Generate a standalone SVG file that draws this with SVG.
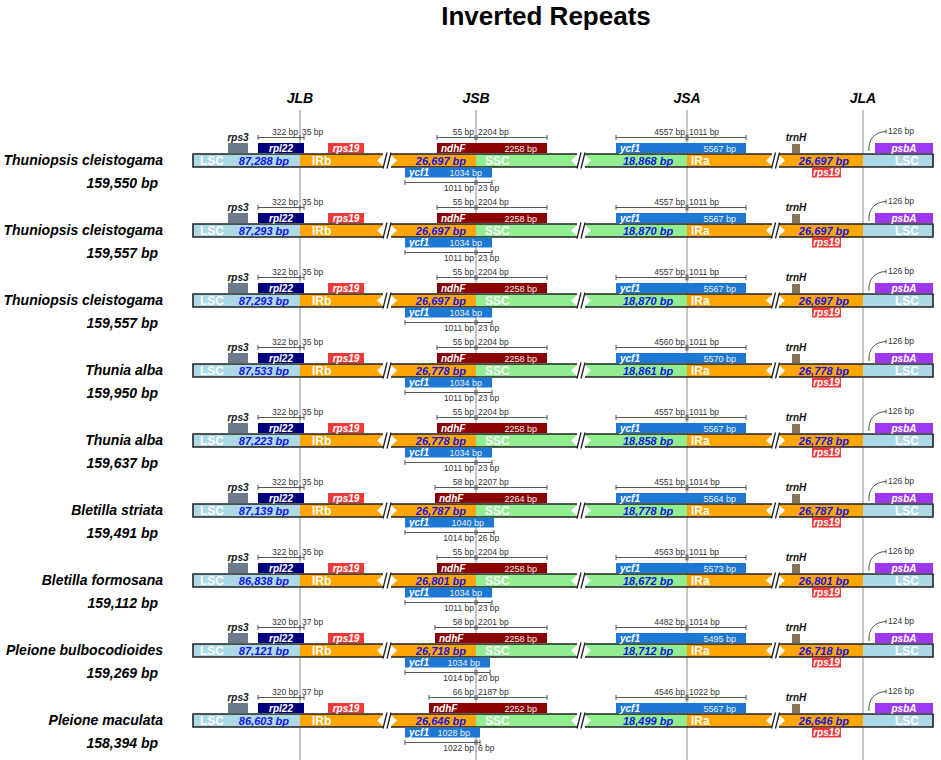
<svg xmlns="http://www.w3.org/2000/svg" xmlns:xlink="http://www.w3.org/1999/xlink" width="941" height="760" viewBox="0 0 941 760">
<style>
text{font-family:"Liberation Sans",Arial,sans-serif}
.t{font-size:26px;font-weight:bold;text-anchor:middle;fill:#000}
.j{font-size:14px;font-weight:bold;font-style:italic;text-anchor:middle;fill:#000}
.sp{font-size:14px;font-weight:bold;font-style:italic;text-anchor:end;fill:#000}
.reg{font-size:12px;font-weight:bold;fill:#fff}
.num{font-size:11px;font-weight:bold;font-style:italic;fill:#1414e6}
.gl{font-size:10px;font-weight:bold;font-style:italic;fill:#fff;text-anchor:middle}
.gs{font-size:10px;font-weight:bold;font-style:italic;fill:#fff}
.gk{font-size:10px;font-weight:bold;font-style:italic;fill:#111;text-anchor:middle}
.sz{font-size:9px;fill:#eee;text-anchor:end}
.sc{font-size:8.5px;fill:#333}
.e{text-anchor:end}
.jl{stroke:#a8a8a8;stroke-width:1.3;fill:none}
.scl{stroke:#555;stroke-width:1;fill:none}
</style>
<defs>
<g id="base">
<rect x="193" y="154" width="107" height="13" fill="#add8e6"/>
<rect x="300" y="154" width="83" height="13" fill="#ffa500"/>
<rect x="391" y="154" width="85" height="13" fill="#ffa500"/>
<rect x="476" y="154" width="101" height="13" fill="#90ee90"/>
<rect x="585" y="154" width="102" height="13" fill="#90ee90"/>
<rect x="687" y="154" width="85" height="13" fill="#ffa500"/>
<rect x="779" y="154" width="84" height="13" fill="#ffa500"/>
<rect x="863" y="154" width="70" height="13" fill="#add8e6"/>
<path d="M383,154H193V167H383M391,154H577M391,167H577M585,154H772M585,167H772M779,154H933V167H779" fill="none" stroke="#222" stroke-width="1.6"/>
<path d="M377,160.5L383,155V166ZM397,160.5L391,155V166ZM571,160.5L577,155V166ZM591,160.5L585,155V166ZM766,160.5L772,155V166ZM785,160.5L779,155V166Z" fill="#fff"/>
<path d="M383,168.5L387,152.5M387,168.5L391,152.5M577,168.5L581,152.5M581,168.5L585,152.5M771.5,168.5L775.5,152.5M775.5,168.5L779.5,152.5" stroke="#222" stroke-width="1.3"/>
<rect x="228" y="143" width="20" height="10" fill="#6c7b8b"/>
<rect x="258" y="143" width="46" height="10" fill="#00007f"/>
<rect x="328" y="143" width="36" height="10" fill="#f03a3a"/>
<rect x="616" y="143" width="130" height="10" fill="#1c78d2"/>
<rect x="792" y="144" width="8" height="9" fill="#8b7355"/>
<rect x="875" y="143" width="58" height="10" fill="#9c38ef"/>
<rect x="812" y="167.5" width="29" height="10" fill="#f03a3a"/>
<path class="scl" d="M258,137.5H304M258,135V140M300,135V140M304,135V140"/>
<path class="scl" d="M616,137.5H746M616,135V140M746,135V140"/>
<rect x="685.5" y="134.5" width="3" height="6" fill="#777"/>
<path class="scl" d="M869,151C868,140 874,132 886,131.5M886,129.5V133.5"/>
</g>
</defs>
<rect width="941" height="760" fill="#fff"/>
<text class="t" x="546" y="25">Inverted Repeats</text>
<g id="connectors">
<path class="jl" d="M300,110V760M476,110V760M687,110V760M863,110V760"/>
</g>
<g id="junctions">
<text class="j" x="300" y="103">JLB</text>
<text class="j" x="476" y="103">JSB</text>
<text class="j" x="687" y="103">JSA</text>
<text class="j" x="863" y="103">JLA</text>
</g>

<g id="row1">
<use xlink:href="#base"/>
<rect x="437" y="143" width="110" height="10" fill="#8b0000"/>
<path class="scl" d="M437,137.5H547M437,135V140M475,135V140M477,135V140M547,135V140"/>
<rect x="405" y="167.5" width="87" height="10" fill="#1c78d2"/>
<path class="scl" d="M405,182.5H492M405,180V185M475,180V185M477,180V185M492,180V185"/>
<text class="sp" x="163" y="165">Thuniopsis cleistogama</text>
<text class="sp" x="158" y="188">159,550 bp</text>
<text class="reg" x="200" y="165">LSC</text><text class="num e" x="289" y="164.5">87,288 bp</text>
<text class="reg" x="312" y="165">IRb</text><text class="num e" x="466" y="164.5">26,697 bp</text>
<text class="reg" x="485" y="165">SSC</text><text class="num" x="623" y="164.5">18,868 bp</text>
<text class="reg" x="691" y="165">IRa</text><text class="num e" x="849" y="164.5">26,697 bp</text>
<text class="reg" x="895" y="165">LSC</text>
<text class="gk" x="238" y="140.5">rps3</text><text class="gl" x="281" y="151.5">rpl22</text><text class="gl" x="346" y="151.5">rps19</text>
<text class="sc e" x="298" y="135">322 bp</text><text class="sc" x="302" y="135">35 bp</text>
<text class="gs" x="441" y="151.5">ndhF</text><text class="sz" x="537" y="151.5">2258 bp</text>
<text class="sc e" x="474" y="135">55 bp</text><text class="sc" x="478" y="135">2204 bp</text>
<text class="gs" x="409" y="175.5">ycf1</text><text class="sz" x="482" y="175.5">1034 bp</text>
<text class="sc e" x="474" y="191">1011 bp</text><text class="sc" x="478" y="191">23 bp</text>
<text class="gs" x="620" y="151.5">ycf1</text><text class="sz" x="736" y="151.5">5567 bp</text>
<text class="sc e" x="685" y="135">4557 bp</text><text class="sc" x="689" y="135">1011 bp</text>
<text class="gk" x="796" y="140.5">trnH</text><text class="gl" x="826.5" y="176">rps19</text>
<text class="gl" x="904" y="151.5">psbA</text><text class="sc" x="888" y="134">126 bp</text>
</g>

<g id="row2" transform="translate(0,70)">
<use xlink:href="#base"/>
<rect x="437" y="143" width="110" height="10" fill="#8b0000"/>
<path class="scl" d="M437,137.5H547M437,135V140M475,135V140M477,135V140M547,135V140"/>
<rect x="405" y="167.5" width="87" height="10" fill="#1c78d2"/>
<path class="scl" d="M405,182.5H492M405,180V185M475,180V185M477,180V185M492,180V185"/>
<text class="sp" x="163" y="165">Thuniopsis cleistogama</text>
<text class="sp" x="158" y="188">159,557 bp</text>
<text class="reg" x="200" y="165">LSC</text><text class="num e" x="289" y="164.5">87,293 bp</text>
<text class="reg" x="312" y="165">IRb</text><text class="num e" x="466" y="164.5">26,697 bp</text>
<text class="reg" x="485" y="165">SSC</text><text class="num" x="623" y="164.5">18,870 bp</text>
<text class="reg" x="691" y="165">IRa</text><text class="num e" x="849" y="164.5">26,697 bp</text>
<text class="reg" x="895" y="165">LSC</text>
<text class="gk" x="238" y="140.5">rps3</text><text class="gl" x="281" y="151.5">rpl22</text><text class="gl" x="346" y="151.5">rps19</text>
<text class="sc e" x="298" y="135">322 bp</text><text class="sc" x="302" y="135">35 bp</text>
<text class="gs" x="441" y="151.5">ndhF</text><text class="sz" x="537" y="151.5">2258 bp</text>
<text class="sc e" x="474" y="135">55 bp</text><text class="sc" x="478" y="135">2204 bp</text>
<text class="gs" x="409" y="175.5">ycf1</text><text class="sz" x="482" y="175.5">1034 bp</text>
<text class="sc e" x="474" y="191">1011 bp</text><text class="sc" x="478" y="191">23 bp</text>
<text class="gs" x="620" y="151.5">ycf1</text><text class="sz" x="736" y="151.5">5567 bp</text>
<text class="sc e" x="685" y="135">4557 bp</text><text class="sc" x="689" y="135">1011 bp</text>
<text class="gk" x="796" y="140.5">trnH</text><text class="gl" x="826.5" y="176">rps19</text>
<text class="gl" x="904" y="151.5">psbA</text><text class="sc" x="888" y="134">126 bp</text>
</g>

<g id="row3" transform="translate(0,140)">
<use xlink:href="#base"/>
<rect x="437" y="143" width="110" height="10" fill="#8b0000"/>
<path class="scl" d="M437,137.5H547M437,135V140M475,135V140M477,135V140M547,135V140"/>
<rect x="405" y="167.5" width="87" height="10" fill="#1c78d2"/>
<path class="scl" d="M405,182.5H492M405,180V185M475,180V185M477,180V185M492,180V185"/>
<text class="sp" x="163" y="165">Thuniopsis cleistogama</text>
<text class="sp" x="158" y="188">159,557 bp</text>
<text class="reg" x="200" y="165">LSC</text><text class="num e" x="289" y="164.5">87,293 bp</text>
<text class="reg" x="312" y="165">IRb</text><text class="num e" x="466" y="164.5">26,697 bp</text>
<text class="reg" x="485" y="165">SSC</text><text class="num" x="623" y="164.5">18,870 bp</text>
<text class="reg" x="691" y="165">IRa</text><text class="num e" x="849" y="164.5">26,697 bp</text>
<text class="reg" x="895" y="165">LSC</text>
<text class="gk" x="238" y="140.5">rps3</text><text class="gl" x="281" y="151.5">rpl22</text><text class="gl" x="346" y="151.5">rps19</text>
<text class="sc e" x="298" y="135">322 bp</text><text class="sc" x="302" y="135">35 bp</text>
<text class="gs" x="441" y="151.5">ndhF</text><text class="sz" x="537" y="151.5">2258 bp</text>
<text class="sc e" x="474" y="135">55 bp</text><text class="sc" x="478" y="135">2204 bp</text>
<text class="gs" x="409" y="175.5">ycf1</text><text class="sz" x="482" y="175.5">1034 bp</text>
<text class="sc e" x="474" y="191">1011 bp</text><text class="sc" x="478" y="191">23 bp</text>
<text class="gs" x="620" y="151.5">ycf1</text><text class="sz" x="736" y="151.5">5567 bp</text>
<text class="sc e" x="685" y="135">4557 bp</text><text class="sc" x="689" y="135">1011 bp</text>
<text class="gk" x="796" y="140.5">trnH</text><text class="gl" x="826.5" y="176">rps19</text>
<text class="gl" x="904" y="151.5">psbA</text><text class="sc" x="888" y="134">126 bp</text>
</g>

<g id="row4" transform="translate(0,210)">
<use xlink:href="#base"/>
<rect x="437" y="143" width="110" height="10" fill="#8b0000"/>
<path class="scl" d="M437,137.5H547M437,135V140M475,135V140M477,135V140M547,135V140"/>
<rect x="405" y="167.5" width="87" height="10" fill="#1c78d2"/>
<path class="scl" d="M405,182.5H492M405,180V185M475,180V185M477,180V185M492,180V185"/>
<text class="sp" x="163" y="165">Thunia alba</text>
<text class="sp" x="158" y="188">159,950 bp</text>
<text class="reg" x="200" y="165">LSC</text><text class="num e" x="289" y="164.5">87,533 bp</text>
<text class="reg" x="312" y="165">IRb</text><text class="num e" x="466" y="164.5">26,778 bp</text>
<text class="reg" x="485" y="165">SSC</text><text class="num" x="623" y="164.5">18,861 bp</text>
<text class="reg" x="691" y="165">IRa</text><text class="num e" x="849" y="164.5">26,778 bp</text>
<text class="reg" x="895" y="165">LSC</text>
<text class="gk" x="238" y="140.5">rps3</text><text class="gl" x="281" y="151.5">rpl22</text><text class="gl" x="346" y="151.5">rps19</text>
<text class="sc e" x="298" y="135">322 bp</text><text class="sc" x="302" y="135">35 bp</text>
<text class="gs" x="441" y="151.5">ndhF</text><text class="sz" x="537" y="151.5">2258 bp</text>
<text class="sc e" x="474" y="135">55 bp</text><text class="sc" x="478" y="135">2204 bp</text>
<text class="gs" x="409" y="175.5">ycf1</text><text class="sz" x="482" y="175.5">1034 bp</text>
<text class="sc e" x="474" y="191">1011 bp</text><text class="sc" x="478" y="191">23 bp</text>
<text class="gs" x="620" y="151.5">ycf1</text><text class="sz" x="736" y="151.5">5570 bp</text>
<text class="sc e" x="685" y="135">4560 bp</text><text class="sc" x="689" y="135">1011 bp</text>
<text class="gk" x="796" y="140.5">trnH</text><text class="gl" x="826.5" y="176">rps19</text>
<text class="gl" x="904" y="151.5">psbA</text><text class="sc" x="888" y="134">126 bp</text>
</g>

<g id="row5" transform="translate(0,280)">
<use xlink:href="#base"/>
<rect x="437" y="143" width="110" height="10" fill="#8b0000"/>
<path class="scl" d="M437,137.5H547M437,135V140M475,135V140M477,135V140M547,135V140"/>
<rect x="405" y="167.5" width="87" height="10" fill="#1c78d2"/>
<path class="scl" d="M405,182.5H492M405,180V185M475,180V185M477,180V185M492,180V185"/>
<text class="sp" x="163" y="165">Thunia alba</text>
<text class="sp" x="158" y="188">159,637 bp</text>
<text class="reg" x="200" y="165">LSC</text><text class="num e" x="289" y="164.5">87,223 bp</text>
<text class="reg" x="312" y="165">IRb</text><text class="num e" x="466" y="164.5">26,778 bp</text>
<text class="reg" x="485" y="165">SSC</text><text class="num" x="623" y="164.5">18,858 bp</text>
<text class="reg" x="691" y="165">IRa</text><text class="num e" x="849" y="164.5">26,778 bp</text>
<text class="reg" x="895" y="165">LSC</text>
<text class="gk" x="238" y="140.5">rps3</text><text class="gl" x="281" y="151.5">rpl22</text><text class="gl" x="346" y="151.5">rps19</text>
<text class="sc e" x="298" y="135">322 bp</text><text class="sc" x="302" y="135">35 bp</text>
<text class="gs" x="441" y="151.5">ndhF</text><text class="sz" x="537" y="151.5">2258 bp</text>
<text class="sc e" x="474" y="135">55 bp</text><text class="sc" x="478" y="135">2204 bp</text>
<text class="gs" x="409" y="175.5">ycf1</text><text class="sz" x="482" y="175.5">1034 bp</text>
<text class="sc e" x="474" y="191">1011 bp</text><text class="sc" x="478" y="191">23 bp</text>
<text class="gs" x="620" y="151.5">ycf1</text><text class="sz" x="736" y="151.5">5567 bp</text>
<text class="sc e" x="685" y="135">4557 bp</text><text class="sc" x="689" y="135">1011 bp</text>
<text class="gk" x="796" y="140.5">trnH</text><text class="gl" x="826.5" y="176">rps19</text>
<text class="gl" x="904" y="151.5">psbA</text><text class="sc" x="888" y="134">126 bp</text>
</g>

<g id="row6" transform="translate(0,350)">
<use xlink:href="#base"/>
<rect x="435" y="143" width="112" height="10" fill="#8b0000"/>
<path class="scl" d="M435,137.5H547M435,135V140M475,135V140M477,135V140M547,135V140"/>
<rect x="405" y="167.5" width="89" height="10" fill="#1c78d2"/>
<path class="scl" d="M405,182.5H494M405,180V185M475,180V185M477,180V185M494,180V185"/>
<text class="sp" x="163" y="165">Bletilla striata</text>
<text class="sp" x="158" y="188">159,491 bp</text>
<text class="reg" x="200" y="165">LSC</text><text class="num e" x="289" y="164.5">87,139 bp</text>
<text class="reg" x="312" y="165">IRb</text><text class="num e" x="466" y="164.5">26,787 bp</text>
<text class="reg" x="485" y="165">SSC</text><text class="num" x="623" y="164.5">18,778 bp</text>
<text class="reg" x="691" y="165">IRa</text><text class="num e" x="849" y="164.5">26,787 bp</text>
<text class="reg" x="895" y="165">LSC</text>
<text class="gk" x="238" y="140.5">rps3</text><text class="gl" x="281" y="151.5">rpl22</text><text class="gl" x="346" y="151.5">rps19</text>
<text class="sc e" x="298" y="135">322 bp</text><text class="sc" x="302" y="135">35 bp</text>
<text class="gs" x="439" y="151.5">ndhF</text><text class="sz" x="537" y="151.5">2264 bp</text>
<text class="sc e" x="474" y="135">58 bp</text><text class="sc" x="478" y="135">2207 bp</text>
<text class="gs" x="409" y="175.5">ycf1</text><text class="sz" x="484" y="175.5">1040 bp</text>
<text class="sc e" x="474" y="191">1014 bp</text><text class="sc" x="478" y="191">26 bp</text>
<text class="gs" x="620" y="151.5">ycf1</text><text class="sz" x="736" y="151.5">5564 bp</text>
<text class="sc e" x="685" y="135">4551 bp</text><text class="sc" x="689" y="135">1014 bp</text>
<text class="gk" x="796" y="140.5">trnH</text><text class="gl" x="826.5" y="176">rps19</text>
<text class="gl" x="904" y="151.5">psbA</text><text class="sc" x="888" y="134">126 bp</text>
</g>

<g id="row7" transform="translate(0,420)">
<use xlink:href="#base"/>
<rect x="437" y="143" width="110" height="10" fill="#8b0000"/>
<path class="scl" d="M437,137.5H547M437,135V140M475,135V140M477,135V140M547,135V140"/>
<rect x="405" y="167.5" width="87" height="10" fill="#1c78d2"/>
<path class="scl" d="M405,182.5H492M405,180V185M475,180V185M477,180V185M492,180V185"/>
<text class="sp" x="163" y="165">Bletilla formosana</text>
<text class="sp" x="158" y="188">159,112 bp</text>
<text class="reg" x="200" y="165">LSC</text><text class="num e" x="289" y="164.5">86,838 bp</text>
<text class="reg" x="312" y="165">IRb</text><text class="num e" x="466" y="164.5">26,801 bp</text>
<text class="reg" x="485" y="165">SSC</text><text class="num" x="623" y="164.5">18,672 bp</text>
<text class="reg" x="691" y="165">IRa</text><text class="num e" x="849" y="164.5">26,801 bp</text>
<text class="reg" x="895" y="165">LSC</text>
<text class="gk" x="238" y="140.5">rps3</text><text class="gl" x="281" y="151.5">rpl22</text><text class="gl" x="346" y="151.5">rps19</text>
<text class="sc e" x="298" y="135">322 bp</text><text class="sc" x="302" y="135">35 bp</text>
<text class="gs" x="441" y="151.5">ndhF</text><text class="sz" x="537" y="151.5">2258 bp</text>
<text class="sc e" x="474" y="135">55 bp</text><text class="sc" x="478" y="135">2204 bp</text>
<text class="gs" x="409" y="175.5">ycf1</text><text class="sz" x="482" y="175.5">1034 bp</text>
<text class="sc e" x="474" y="191">1011 bp</text><text class="sc" x="478" y="191">23 bp</text>
<text class="gs" x="620" y="151.5">ycf1</text><text class="sz" x="736" y="151.5">5573 bp</text>
<text class="sc e" x="685" y="135">4563 bp</text><text class="sc" x="689" y="135">1011 bp</text>
<text class="gk" x="796" y="140.5">trnH</text><text class="gl" x="826.5" y="176">rps19</text>
<text class="gl" x="904" y="151.5">psbA</text><text class="sc" x="888" y="134">126 bp</text>
</g>

<g id="row8" transform="translate(0,490)">
<use xlink:href="#base"/>
<rect x="435" y="143" width="112" height="10" fill="#8b0000"/>
<path class="scl" d="M435,137.5H547M435,135V140M475,135V140M477,135V140M547,135V140"/>
<rect x="405" y="167.5" width="85" height="10" fill="#1c78d2"/>
<path class="scl" d="M405,182.5H490M405,180V185M475,180V185M477,180V185M490,180V185"/>
<text class="sp" x="163" y="165">Pleione bulbocodioides</text>
<text class="sp" x="158" y="188">159,269 bp</text>
<text class="reg" x="200" y="165">LSC</text><text class="num e" x="289" y="164.5">87,121 bp</text>
<text class="reg" x="312" y="165">IRb</text><text class="num e" x="466" y="164.5">26,718 bp</text>
<text class="reg" x="485" y="165">SSC</text><text class="num" x="623" y="164.5">18,712 bp</text>
<text class="reg" x="691" y="165">IRa</text><text class="num e" x="849" y="164.5">26,718 bp</text>
<text class="reg" x="895" y="165">LSC</text>
<text class="gk" x="238" y="140.5">rps3</text><text class="gl" x="281" y="151.5">rpl22</text><text class="gl" x="346" y="151.5">rps19</text>
<text class="sc e" x="298" y="135">320 bp</text><text class="sc" x="302" y="135">37 bp</text>
<text class="gs" x="439" y="151.5">ndhF</text><text class="sz" x="537" y="151.5">2258 bp</text>
<text class="sc e" x="474" y="135">58 bp</text><text class="sc" x="478" y="135">2201 bp</text>
<text class="gs" x="409" y="175.5">ycf1</text><text class="sz" x="480" y="175.5">1034 bp</text>
<text class="sc e" x="474" y="191">1014 bp</text><text class="sc" x="478" y="191">20 bp</text>
<text class="gs" x="620" y="151.5">ycf1</text><text class="sz" x="736" y="151.5">5495 bp</text>
<text class="sc e" x="685" y="135">4482 bp</text><text class="sc" x="689" y="135">1014 bp</text>
<text class="gk" x="796" y="140.5">trnH</text><text class="gl" x="826.5" y="176">rps19</text>
<text class="gl" x="904" y="151.5">psbA</text><text class="sc" x="888" y="134">124 bp</text>
</g>

<g id="row9" transform="translate(0,560)">
<use xlink:href="#base"/>
<rect x="429" y="143" width="118" height="10" fill="#8b0000"/>
<path class="scl" d="M429,137.5H547M429,135V140M475,135V140M477,135V140M547,135V140"/>
<rect x="405" y="167.5" width="75" height="10" fill="#1c78d2"/>
<path class="scl" d="M405,182.5H480M405,180V185M475,180V185M477,180V185M480,180V185"/>
<text class="sp" x="163" y="165">Pleione maculata</text>
<text class="sp" x="158" y="188">158,394 bp</text>
<text class="reg" x="200" y="165">LSC</text><text class="num e" x="289" y="164.5">86,603 bp</text>
<text class="reg" x="312" y="165">IRb</text><text class="num e" x="466" y="164.5">26,646 bp</text>
<text class="reg" x="485" y="165">SSC</text><text class="num" x="623" y="164.5">18,499 bp</text>
<text class="reg" x="691" y="165">IRa</text><text class="num e" x="849" y="164.5">26,646 bp</text>
<text class="reg" x="895" y="165">LSC</text>
<text class="gk" x="238" y="140.5">rps3</text><text class="gl" x="281" y="151.5">rpl22</text><text class="gl" x="346" y="151.5">rps19</text>
<text class="sc e" x="298" y="135">320 bp</text><text class="sc" x="302" y="135">37 bp</text>
<text class="gs" x="433" y="151.5">ndhF</text><text class="sz" x="537" y="151.5">2252 bp</text>
<text class="sc e" x="474" y="135">66 bp</text><text class="sc" x="478" y="135">2187 bp</text>
<text class="gs" x="409" y="175.5">ycf1</text><text class="sz" x="470" y="175.5">1028 bp</text>
<text class="sc e" x="474" y="191">1022 bp</text><text class="sc" x="478" y="191">6 bp</text>
<text class="gs" x="620" y="151.5">ycf1</text><text class="sz" x="736" y="151.5">5567 bp</text>
<text class="sc e" x="685" y="135">4546 bp</text><text class="sc" x="689" y="135">1022 bp</text>
<text class="gk" x="796" y="140.5">trnH</text><text class="gl" x="826.5" y="176">rps19</text>
<text class="gl" x="904" y="151.5">psbA</text><text class="sc" x="888" y="134">126 bp</text>
</g>
</svg>
